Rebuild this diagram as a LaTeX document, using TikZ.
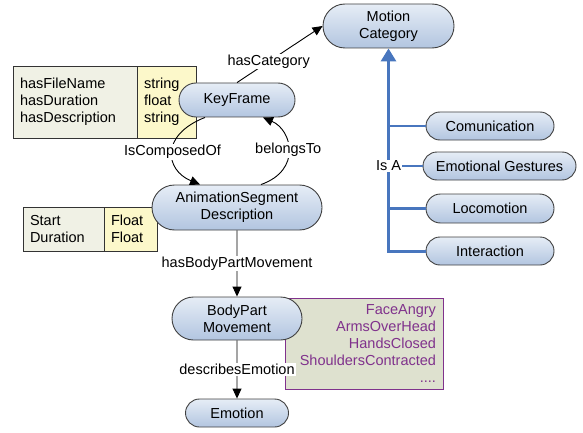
\documentclass[tikz,border=0pt]{standalone}
\usepackage{fontspec}
\setmainfont{Liberation Sans}
\usetikzlibrary{arrows.meta, positioning, shapes.misc}
\definecolor{nodetop}{RGB}{230,237,246}
\definecolor{nodebot}{RGB}{178,197,224}
\definecolor{isablue}{RGB}{72,118,190}
\definecolor{attrgrey}{RGB}{240,241,229}
\definecolor{attryellow}{RGB}{252,248,202}
\definecolor{valgreen}{RGB}{222,225,207}
\definecolor{valpurple}{RGB}{128,50,140}

\begin{document}
\begin{tikzpicture}[x=1pt,y=-1pt,
    font=\fontsize{14.5}{17}\selectfont,
    concept/.style={rounded rectangle, draw=black!75, line width=0.9pt,
      top color=nodetop, bottom color=nodebot, inner sep=0pt, align=center},
    attr/.style={rectangle, draw=black!80, line width=0.9pt, inner xsep=7pt,
      inner ysep=0pt, align=left},
    rel/.style={-{Triangle[length=10pt,width=9pt]}, line width=0.9pt},
    lbl/.style={fill=white, inner sep=1pt},
    isa/.style={draw=isablue, line width=2.2pt}]
    \useasboundingbox (0,0) rectangle (583,433);

      % attribute tables
      \node[attr, fill=attrgrey, minimum width=124pt, minimum height=72pt, text width=110pt]
            (kf_names) at (75,102) {hasFileName\\hasDuration\\hasDescription};
      \node[attr, fill=attryellow, minimum width=59pt, minimum height=72pt, text width=45pt]
            (kf_types) at (166.5,102) {string\\float\\string};
      \node[attr, fill=attrgrey, minimum width=81pt, minimum height=44pt, text width=67pt]
            (as_names) at (63.5,229) {Start\\Duration};
      \node[attr, fill=attryellow, minimum width=53pt, minimum height=44pt, text width=39pt]
            (as_types) at (130.5,229) {Float\\Float};
      \node[attr, draw=valpurple, fill=valgreen, text=valpurple, align=right,
            minimum width=158pt, minimum height=91pt, text width=144pt]
            (moves) at (364,343.5) {FaceAngry\\ArmsOverHead\\HandsClosed\\ShouldersContracted\\....};

      % concepts
      \node[concept, minimum width=131pt, minimum height=44pt] (motion_cat) at (388.5,26) {Motion\\Category};
      \node[concept, minimum width=116pt, minimum height=34pt] (key_frame) at (237,100) {KeyFrame};
      \node[concept, minimum width=170pt, minimum height=45pt] (anim_seg) at (237,207.5) {AnimationSegment\\Description};
      \node[concept, minimum width=130pt, minimum height=43pt] (body_move) at (237,318.5) {BodyPart\\Movement};
      \node[concept, minimum width=103pt, minimum height=28pt] (emotion) at (237,413) {Emotion};
      \node[concept, minimum width=128pt, minimum height=28pt] (comm) at (490,126) {Comunication};
      \node[concept, minimum width=153pt, minimum height=28pt] (emo_gest) at (499.5,166) {Emotional Gestures};
      \node[concept, minimum width=128pt, minimum height=29pt] (locomotion) at (490,208.5) {Locomotion};
      \node[concept, minimum width=128pt, minimum height=28pt] (interaction) at (490,251) {Interaction};

      % relations
      \draw[rel] (key_frame.north) -- (motion_cat.west) node[lbl, pos=0.37] {hasCategory};
      \draw[rel] ([xshift=-32pt]key_frame.south) .. controls (160,135) and (165,170) ..
            ([xshift=-37pt]anim_seg.north) node[lbl, pos=0.5] {IsComposedOf};
      \draw[rel] ([xshift=24pt]anim_seg.north) .. controls (302,170) and (292,130) ..
            ([xshift=26pt]key_frame.south) node[lbl, pos=0.5] {belongsTo};
      \draw[rel] (anim_seg) -- (body_move) node[lbl, pos=0.5] {hasBodyPartMovement};
      \draw[rel] (body_move) -- (emotion) node[lbl, pos=0.5] {describesEmotion};

      % is-a hierarchy
      \draw[isa, line width=3pt, -{Triangle[length=13pt,width=15pt]}] (interaction.west) -| (motion_cat.south);
      \draw[isa] (comm.west) -- (comm.west -| motion_cat.south);
      \draw[isa] (locomotion.west) -- (locomotion.west -| motion_cat.south);
      \node[lbl] (is_a) at (motion_cat.south |- emo_gest.west) {Is A};
      \draw[isa] (is_a) -- (emo_gest);
\end{tikzpicture}
\end{document}
